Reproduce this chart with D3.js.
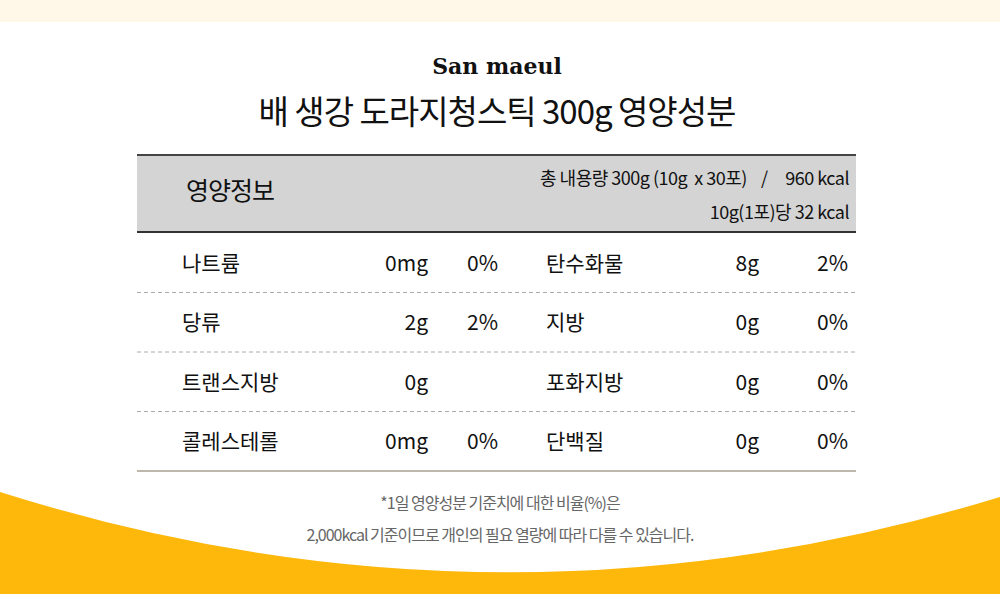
<!DOCTYPE html>
<html><head><meta charset="utf-8">
<script src="https://cdn.jsdelivr.net/npm/d3@7"></script>
<style>body{margin:0;background:#fff}svg{display:block}</style>
</head><body>
<svg id="c" width="1000" height="594"></svg>
<script>
const names1 = ["나트륨","당류","트랜스지방","콜레스테롤"];
const values1 = ["0mg","2g","0g","0mg"];
const pcts1 = ["0%","2%","","0%"];
const names2 = ["탄수화물","지방","포화지방","단백질"];
const values2 = ["8g","0g","0g","0g"];
const pcts2 = ["2%","0%","0%","0%"];
const headerLines = ["총 내용량 300g (10g  x 30포)    /     960 kcal","10g(1포)당 32 kcal"];
const notes = ["*1일 영양성분 기준치에 대한 비율(%)은","2,000kcal 기준이므로 개인의 필요 열량에 따라 다를 수 있습니다."];

const svg = d3.select("#c");
const F = "'Noto Sans CJK KR','Noto Sans',sans-serif";
svg.append("rect").attr("width",1000).attr("height",22).attr("fill","#fff8e9");
// wave
svg.append("path").attr("fill","#fdb80b")
  .attr("d","M0,492 Q500,650 1000,497 L1000,594 L0,594 Z");

svg.append("text").attr("x",497).attr("y",74).attr("text-anchor","middle")
  .attr("font-family","'DejaVu Serif',serif").attr("font-weight","bold").attr("font-size",22).attr("fill","#111").text("San maeul");
svg.append("text").attr("x",497).attr("y",124).attr("text-anchor","middle")
  .attr("font-family",F).attr("font-size",33).attr("fill","#111").attr("letter-spacing",-1).text("배 생강 도라지청스틱 300g 영양성분");

const x0=137,x1=856;
svg.append("rect").attr("x",x0).attr("y",155).attr("width",x1-x0).attr("height",77).attr("fill","#d4d4d4");
svg.append("line").attr("x1",x0).attr("x2",x1).attr("y1",155).attr("y2",155).attr("stroke","#444").attr("stroke-width",2);
svg.append("line").attr("x1",x0).attr("x2",x1).attr("y1",232).attr("y2",232).attr("stroke","#333").attr("stroke-width",2);
svg.append("text").attr("x",186).attr("y",200).attr("font-family",F).attr("font-size",25).attr("fill","#111").attr("letter-spacing",-1).text("영양정보");
svg.selectAll("text.h").data(headerLines).join("text").attr("class","h")
  .attr("x",849).attr("y",(d,i)=>185+i*34).attr("text-anchor","end").attr("xml:space","preserve")
  .attr("font-family",F).attr("font-size",18).attr("fill","#111").attr("letter-spacing",-0.5).text(d=>d);

const y = d3.scaleBand().domain(d3.range(names1.length)).range([233,471]);
const rows = d3.range(names1.length);
svg.selectAll("line.sep").data(rows.slice(1)).join("line").attr("class","sep")
  .attr("x1",x0).attr("x2",x1).attr("y1",i=>y(i)).attr("y2",i=>y(i))
  .attr("stroke","#aaa").attr("stroke-dasharray","4,3");
svg.append("line").attr("x1",x0).attr("x2",x1).attr("y1",471).attr("y2",471).attr("stroke","#a89f8f").attr("stroke-width",1.5);

function col(arr,x,anchor){
  svg.selectAll(null).data(arr).join("text").attr("x",x).attr("y",(d,i)=>y(i)+y.bandwidth()/2+8)
    .attr("text-anchor",anchor).attr("font-family",F).attr("font-size",21).attr("fill","#111").text(d=>d);
}
col(names1,182,"start"); col(values1,428,"end"); col(pcts1,498,"end");
col(names2,546,"start"); col(values2,759,"end"); col(pcts2,848,"end");

svg.selectAll("text.n").data(notes).join("text").attr("class","n")
  .attr("x",500).attr("y",(d,i)=>509+i*32).attr("text-anchor","middle")
  .attr("font-family",F).attr("font-size",16).attr("fill","#666").attr("letter-spacing",-1).text(d=>d);
</script>
</body></html>
